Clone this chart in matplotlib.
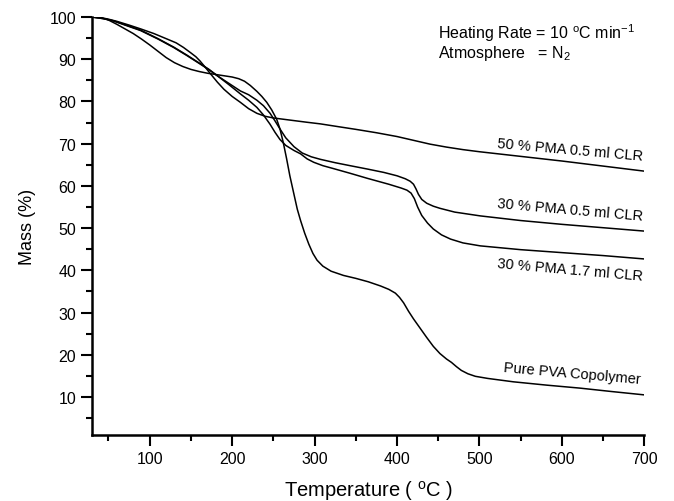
import matplotlib
matplotlib.use('Agg')
import matplotlib.pyplot as plt
import numpy as np

plt.rcParams['font.family'] = ['Liberation Sans', 'DejaVu Sans']
plt.rcParams['mathtext.default'] = 'regular'

# TGA curves (temperature in C, mass in %)
pva_T = [30, 40, 50, 60, 70, 80, 90, 100, 110, 120, 130, 140, 150, 160, 170, 180, 190, 200,
         208, 215, 222, 230, 236, 242, 248, 254, 258, 262, 266, 270, 275, 279, 283, 288, 293,
         298, 303, 310, 320, 335, 350, 365, 380, 390, 398, 403, 408, 414, 420, 428, 436, 444,
         452, 460, 466, 472, 478, 486, 495, 510, 541, 582, 622, 660, 700]
pva_m = [100, 99.9, 99.3, 98.3, 97.2, 96.1, 94.8, 93.4, 91.9, 90.4, 89.2, 88.3, 87.6, 87.1,
         86.7, 86.4, 86.1, 85.8, 85.4, 84.8, 83.8, 82.4, 81.2, 79.8, 78.0, 75.8, 73.5, 70.3,
         66.5, 62.4, 58.0, 54.5, 51.8, 48.8, 46.2, 44.0, 42.4, 41.0, 39.8, 38.8, 38.1, 37.3,
         36.3, 35.5, 34.6, 33.6, 32.3, 30.3, 28.5, 26.3, 24.1, 22.0, 20.3, 19.0, 18.2, 17.2,
         16.3, 15.5, 14.9, 14.4, 13.6, 12.8, 12.1, 11.3, 10.5]

pma50_T = [30, 40, 50, 60, 75, 89, 105, 121, 132, 141, 150, 156, 161, 167, 174, 182, 190,
           200, 210, 220, 230, 240, 250, 270, 290, 307, 330, 350, 375, 400, 420, 440, 460,
           480, 500, 550, 600, 650, 700]
pma50_m = [100, 99.9, 99.5, 99.0, 98.1, 97.2, 96.1, 94.8, 93.9, 92.8, 91.5, 90.6, 89.6, 88.2,
           86.5, 84.6, 82.9, 81.2, 79.8, 78.3, 77.2, 76.5, 76.1, 75.6, 75.1, 74.7, 74.0, 73.4,
           72.6, 71.7, 70.8, 69.9, 69.2, 68.6, 68.1, 67.0, 65.9, 64.7, 63.5]

pma30a_T = [30, 45, 56, 70, 89, 110, 129, 145, 161, 172, 182, 196, 210, 220, 230, 238, 246,
            252, 258, 265, 275, 285, 296, 307, 325, 343, 364, 384, 400, 410, 416, 420, 423,
            426, 430, 436, 444, 452, 470, 501, 550, 600, 650, 700]
pma30a_m = [100, 99.6, 99.1, 98.1, 96.8, 94.8, 92.8, 90.9, 88.9, 87.5, 86.1, 84.3, 82.5, 81.6,
            80.3, 79.0, 77.2, 75.4, 73.5, 71.4, 69.3, 67.8, 66.9, 66.3, 65.5, 64.8, 64.0, 63.2,
            62.4, 61.7, 61.1, 60.4, 59.3, 58.0, 56.8, 55.9, 55.2, 54.7, 53.8, 52.9, 51.8, 50.9,
            50.1, 49.3]

pma30b_T = [30, 45, 56, 70, 89, 110, 129, 145, 161, 172, 182, 196, 210, 220, 230, 238, 246,
            252, 258, 265, 275, 283, 291, 299, 310, 323, 343, 364, 390, 405, 412, 417, 421,
            425, 430, 437, 444, 454, 465, 480, 501, 550, 600, 650, 700]
pma30b_m = [100, 99.6, 99.1, 98.2, 96.9, 94.9, 92.9, 91.0, 89.0, 87.6, 86.1, 84.0, 81.8, 80.3,
            78.6, 76.8, 74.6, 72.7, 71.0, 69.6, 68.4, 67.6, 66.4, 65.6, 64.8, 64.1, 63.0, 61.8,
            60.4, 59.5, 59.0, 58.3, 57.0, 55.0, 53.0, 51.2, 49.8, 48.4, 47.4, 46.5, 45.8, 44.9,
            44.2, 43.5, 42.7]

labels = ['50 % PMA 0.5 ml CLR', '30 % PMA 0.5 ml CLR', '30 % PMA 1.7 ml CLR', 'Pure PVA Copolymer']
label_x = [610, 610, 610, 612]
label_y = [68.7, 54.5, 40.3, 15.7]

fig = plt.figure(figsize=(6.74, 5.02), dpi=100)
ax = fig.add_axes([0.1365, 0.1315, 0.8195, 0.8325])

for T, m in [(pma50_T, pma50_m), (pma30a_T, pma30a_m), (pma30b_T, pma30b_m), (pva_T, pva_m)]:
    ax.plot(T, m, color='black', linewidth=1.1, solid_joinstyle='round')

for s, x, y in zip(labels, label_x, label_y):
    ax.text(x, y, s, fontsize=10.5, rotation=-5, ha='center', va='center', rotation_mode='anchor')

ax.text(0.626, 0.965, 'Heating Rate = 10 $^{o}$C min$^{-1}$', transform=ax.transAxes, fontsize=11.5,
        ha='left', va='center')
ax.text(0.626, 0.915, 'Atmosphere   = N$_{2}$', transform=ax.transAxes, fontsize=11.5,
        ha='left', va='center')

ax.set_xlim(30, 700)
ax.set_ylim(1, 100)
ax.set_xticks([100, 200, 300, 400, 500, 600, 700])
ax.set_xticks(np.arange(50, 701, 100), minor=True)
ax.set_yticks([10, 20, 30, 40, 50, 60, 70, 80, 90, 100])
ax.set_yticks(np.arange(5, 100, 10), minor=True)
ax.tick_params(which='major', direction='out', length=8, width=1.5, labelsize=11.5)
ax.tick_params(which='minor', direction='out', length=4.5, width=1.5)
for side in ['top', 'right']:
    ax.spines[side].set_visible(False)
for side in ['left', 'bottom']:
    ax.spines[side].set_linewidth(1.8)

ax.set_xlabel('Temperature ( $^{o}$C )', fontsize=14.5, labelpad=9)
ax.set_ylabel('Mass (%)', fontsize=13, labelpad=10)

plt.savefig('out.png', dpi=100)
